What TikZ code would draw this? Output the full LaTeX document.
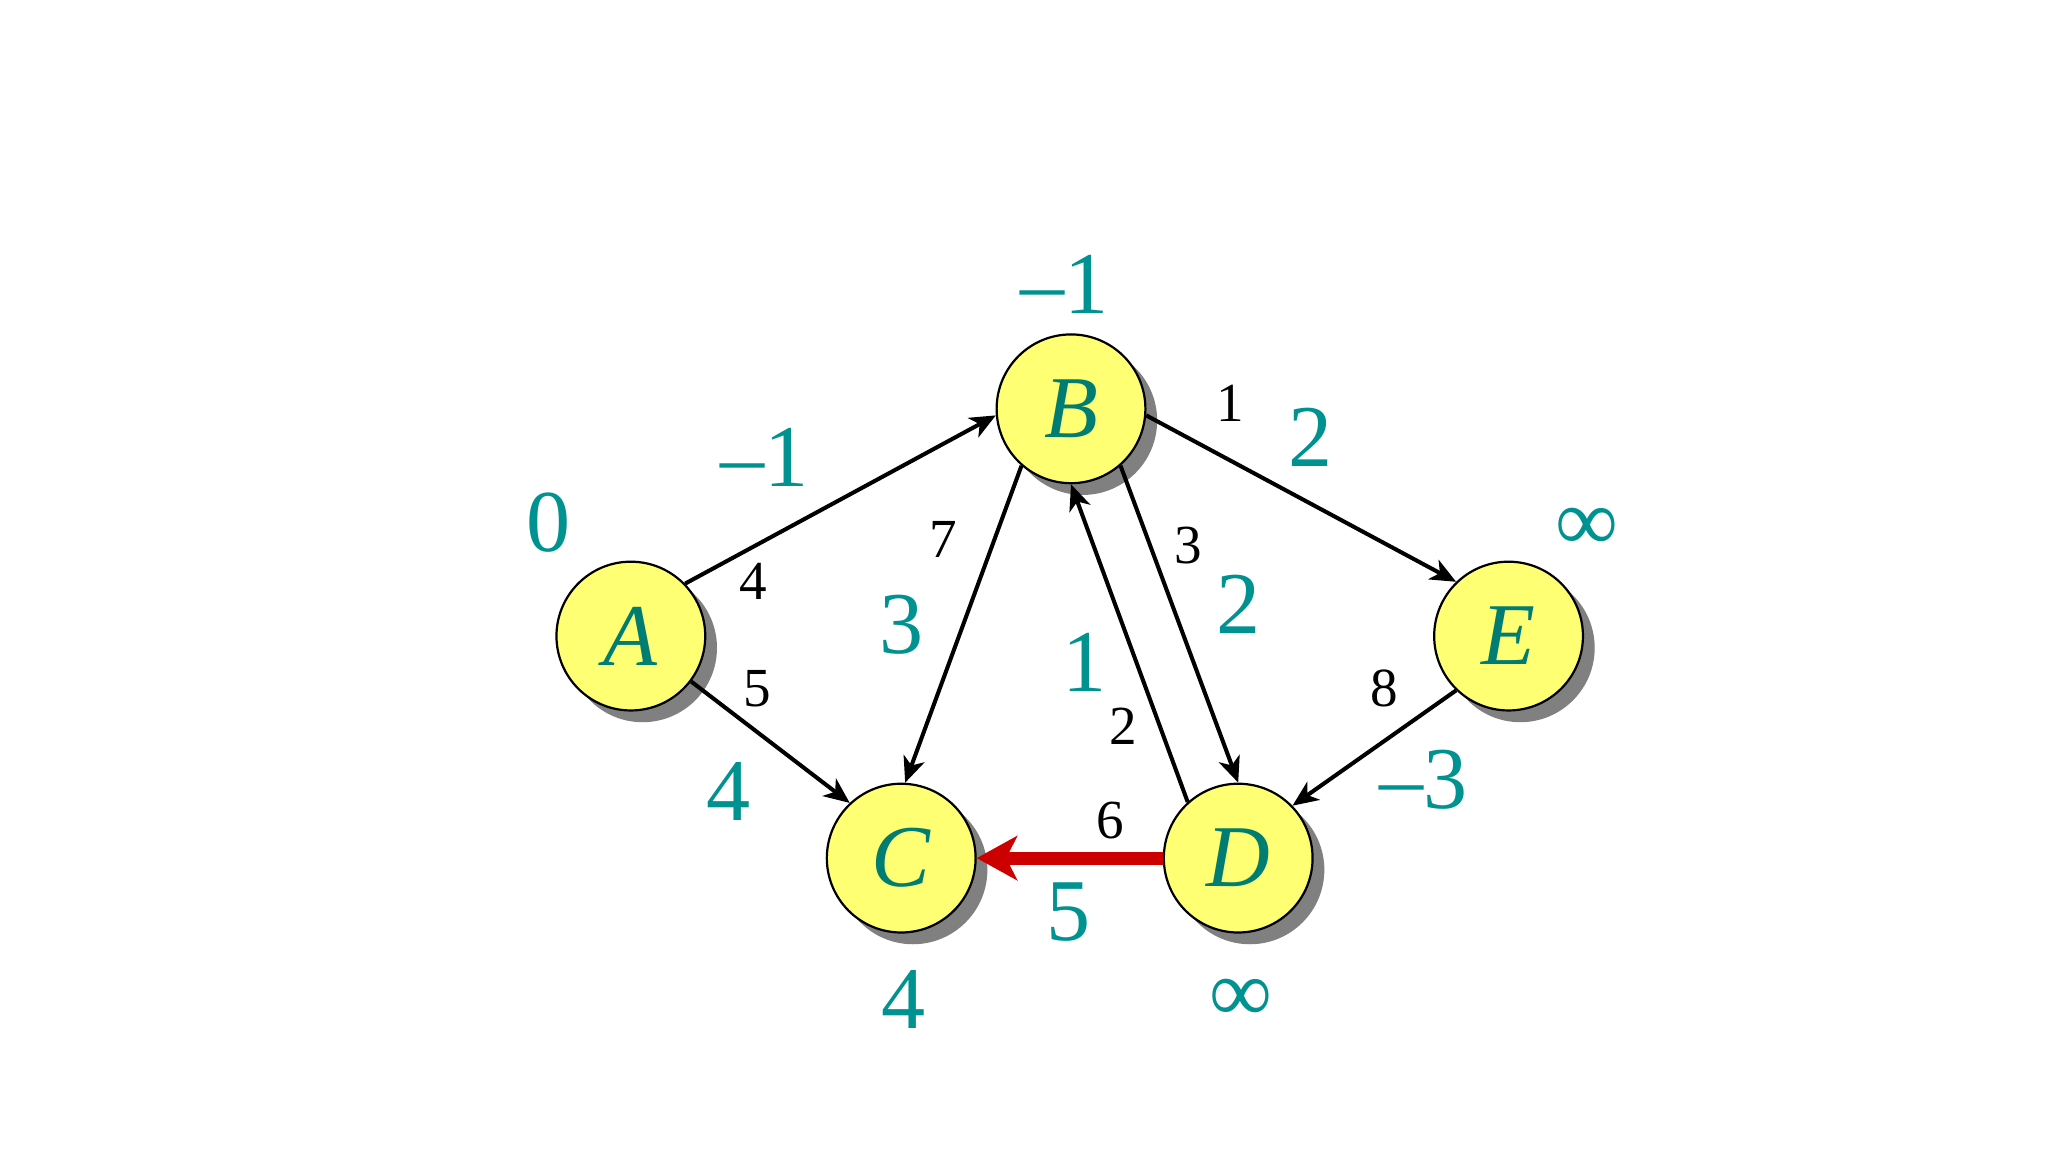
\documentclass[tikz,border=0pt]{standalone}
\usepackage{fontspec}
\setmainfont{Liberation Serif}
\usetikzlibrary{arrows.meta,shadows}
\definecolor{lab}{RGB}{0,145,145}
\definecolor{let}{RGB}{0,125,115}
\definecolor{nodefill}{RGB}{255,255,115}
\definecolor{redarr}{RGB}{205,0,0}
\tikzset{
  vtx/.style={circle, draw=black, line width=0.6pt, fill=nodefill, minimum size=40.5pt, inner sep=0pt,
    text=let, font=\fontsize{24}{28}\selectfont\itshape,
    general shadow={fill=black!50, shadow xshift=3.2pt, shadow yshift=-3.2pt}},
  edge/.style={line width=1.1pt, -{Stealth[length=7pt,width=6pt,inset=2pt]}},
  redge/.style={line width=3.6pt, draw=redarr, -{Stealth[length=11pt,width=12pt,inset=3pt]}},
  big/.style={text=lab, font=\fontsize{24}{28}\selectfont, inner sep=0pt},
  small/.style={text=black, font=\fontsize{15}{18}\selectfont, inner sep=0pt}
}
\begin{document}
\begin{tikzpicture}[x=0.0125cm, y=-0.0125cm]
\useasboundingbox (0,0) rectangle (1568,882);
\node[vtx] (A) at (483,487) {A};
\node[vtx] (B) at (820,313) {B};
\node[vtx] (C) at (690,657) {C};
\node[vtx] (D) at (948,657) {D};
\node[vtx] (E) at (1155,487) {E};

\draw[edge] (A.44) -- (B.185);
\draw[edge] (A.-37) -- (C.133);
\draw[edge] (B.229) -- (C.87);
\draw[edge] (D.132) -- (B.270);
\draw[edge] (B.311) -- (D.90);
\draw[edge] (B.-5) -- (E.134);
\draw[edge] (E.226) -- (D.44);
\draw[redge] (D.180) -- (C.0);

\node[big] (dA) at (420,400) {0};
\node[big] (dB) at (815,218) {--1};
\node[big] (dC) at (692,765) {4};
\node[big] (dD) at (950,766) {∞};
\node[big] (dE) at (1215,405) {∞};

\node[big] (wAB) at (585,350) {--1};
\node[small] (cAB) at (577,445) {4};
\node[small] (cAC) at (580,527) {5};
\node[big] (wAC) at (558,606) {4};
\node[small] (cBC) at (722,413) {7};
\node[big] (wBC) at (690,478) {3};
\node[big] (wDB) at (830,507) {1};
\node[small] (cDB) at (860,556) {2};
\node[small] (cBD) at (910,418) {3};
\node[big] (wBD) at (948,463) {2};
\node[small] (cBE) at (942,309) {1};
\node[big] (wBE) at (1003,335) {2};
\node[small] (cED) at (1060,527) {8};
\node[big] (wED) at (1090,597) {--3};
\node[small] (cDC) at (850,628) {6};
\node[big] (wDC) at (818,698) {5};
\end{tikzpicture}
\end{document}
